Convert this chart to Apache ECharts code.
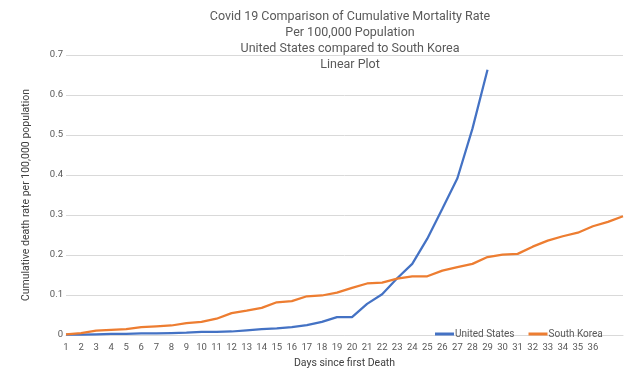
<!DOCTYPE html>
<html>
<head>
<meta charset="utf-8">
<script src="https://cdn.jsdelivr.net/npm/echarts@6/dist/echarts.min.js"></script>
<style>html,body{margin:0;padding:0;background:#fff;}#c{width:640px;height:374px;}</style>
</head>
<body>
<div id="c"></div>
<script>
var days = ['1','2','3','4','5','6','7','8','9','10','11','12','13','14','15','16','17','18','19','20','21','22','23','24','25','26','27','28','29','30','31','32','33','34','35','36','37','38'];
var dayLabels = ['1','2','3','4','5','6','7','8','9','10','11','12','13','14','15','16','17','18','19','20','21','22','23','24','25','26','27','28','29','30','31','32','33','34','35','36','',''];
var unitedStates = [0.001,0.001,0.002,0.003,0.003,0.004,0.004,0.005,0.006,0.008,0.008,0.009,0.012,0.015,0.017,0.020,0.025,0.033,0.045,0.045,0.078,0.102,0.142,0.178,0.241,0.316,0.392,0.516,0.663];
var southKorea = [0.002,0.005,0.011,0.013,0.015,0.020,0.022,0.024,0.030,0.033,0.041,0.055,0.061,0.068,0.082,0.085,0.097,0.099,0.106,0.118,0.129,0.131,0.141,0.147,0.147,0.161,0.170,0.178,0.195,0.201,0.203,0.221,0.236,0.247,0.256,0.272,0.283,0.297];
var titleLines = ['Covid 19 Comparison of Cumulative Mortality Rate','Per 100,000 Population','United States compared to South Korea','Linear Plot'];
var yTicks = [0,0.1,0.2,0.3,0.4,0.5,0.6,0.7];

var font = 'Roboto';
var chart = echarts.init(document.getElementById('c'));
chart.setOption({
  animation: false,
  textStyle: {fontFamily: font},
  graphic: [{
    type: 'text', x: 350, y: 9,
    style: {text: titleLines.join('\n'), textAlign: 'center', textVerticalAlign: 'top',
      font: '12.5px Roboto', fill: '#595959', lineHeight: 16}
  }],
  legend: {
    data: ['United States','South Korea'],
    left: 430, top: 324,
    itemWidth: 19, itemHeight: 3, itemGap: 14,
    icon: 'rect',
    textStyle: {fontFamily: font, fontSize: 10, color: '#595959', padding: [0,0,0,-4]}
  },
  grid: {left: 66, right: 17, top: 55, bottom: 34},
  xAxis: {
    type: 'category', data: days, boundaryGap: false,
    name: 'Days since first Death', nameLocation: 'middle', nameGap: 20,
    nameTextStyle: {fontFamily: font, fontSize: 10.5, color: '#404040'},
    axisLine: {lineStyle: {color: '#d9d9d9', width: 1}},
    axisTick: {show: false},
    axisLabel: {interval: 0, fontSize: 9.5, color: '#595959', margin: 8,
      formatter: function(v, i){ return dayLabels[i]; }}
  },
  yAxis: {
    type: 'value', min: 0, max: 0.7, interval: 0.1,
    name: 'Cumulative death rate per 100,000 population', nameLocation: 'middle', nameGap: 34,
    nameTextStyle: {fontFamily: font, fontSize: 10.5, color: '#404040'},
    axisLine: {show: false}, axisTick: {show: false},
    splitLine: {lineStyle: {color: '#d9d9d9', width: 1}},
    axisLabel: {fontSize: 9.5, color: '#595959', margin: 3,
      formatter: function(v){ var i = yTicks.indexOf(Math.round(v*10)/10); return i >= 0 ? String(yTicks[i]) : ''; }}
  },
  series: [
    {name: 'United States', type: 'line', data: unitedStates, symbol: 'none',
     lineStyle: {color: '#4472C4', width: 2.25}, itemStyle: {color: '#4472C4'}},
    {name: 'South Korea', type: 'line', data: southKorea, symbol: 'none',
     lineStyle: {color: '#ED7D31', width: 2.25}, itemStyle: {color: '#ED7D31'}}
  ]
});
</script>
</body>
</html>
